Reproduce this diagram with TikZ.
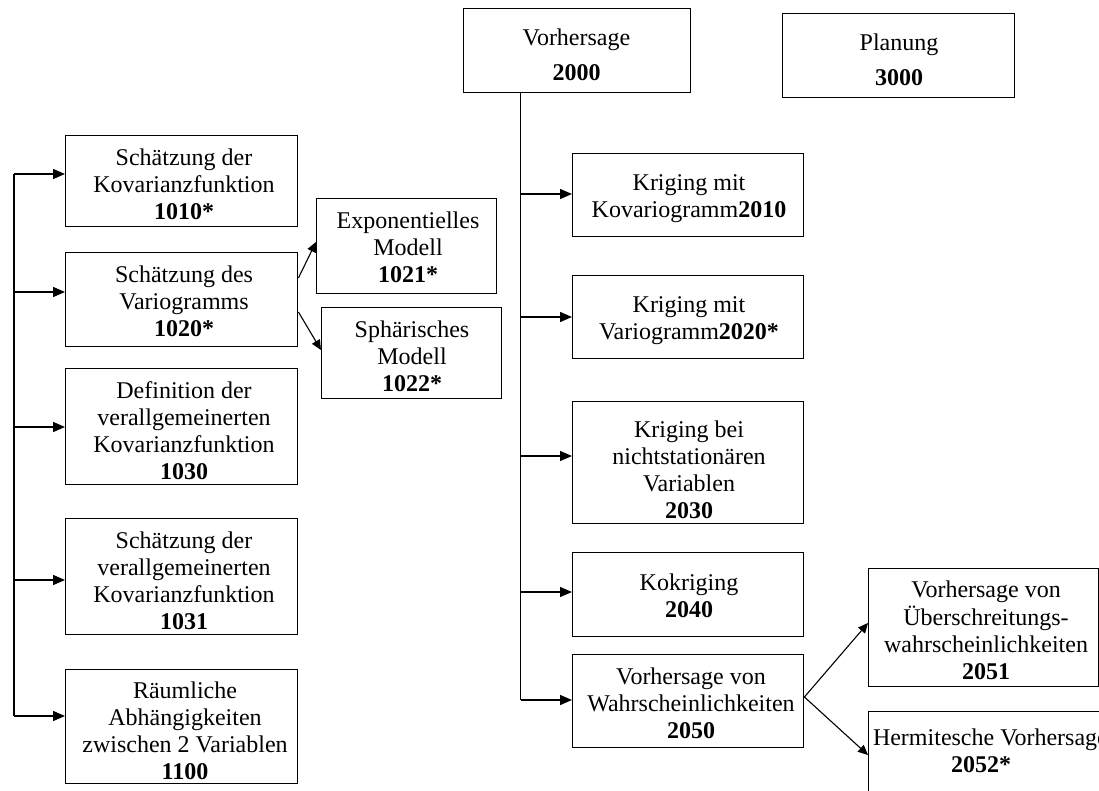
\documentclass[tikz,border=0pt]{standalone}
\usepackage{fontspec}
\setmainfont{Liberation Serif}
\usetikzlibrary{arrows.meta}
\begin{document}
\begin{tikzpicture}[x=1pt,y=-1pt,
  box/.style={draw, line width=1.4pt, inner sep=0pt, anchor=north west},
  txt/.style={align=center, inner sep=0pt, anchor=north, font=\fontsize{24}{27}\selectfont},
  line/.style={line width=1.4pt},
  arr/.style={line width=1.4pt, -{Triangle[length=12pt,width=10pt]}},
  darr/.style={line width=1.1pt, -{Triangle[length=10pt,width=9pt]}}]
\useasboundingbox (0,0) rectangle (1099,791);
\clip (0,0) rectangle (1099,791);
\fill[white] (0,0) rectangle (1099,791);
% boxes
\node[box, minimum width=232pt, minimum height=91pt]  (b1010) at (65,135) {};
\node[box, minimum width=232pt, minimum height=94pt]  (b1020) at (65,252) {};
\node[box, minimum width=232pt, minimum height=116pt] (b1030) at (65,368) {};
\node[box, minimum width=232pt, minimum height=116pt] (b1031) at (65,518) {};
\node[box, minimum width=232pt, minimum height=114pt] (b1100) at (65,669) {};
\node[box, minimum width=180pt, minimum height=95pt]  (b1021) at (316,198) {};
\node[box, minimum width=180pt, minimum height=91pt]  (b1022) at (321,307) {};
\node[box, minimum width=227pt, minimum height=84pt]  (b2000) at (463,8) {};
\node[box, minimum width=232pt, minimum height=84pt]  (b3000) at (782,13) {};
\node[box, minimum width=231pt, minimum height=83pt]  (b2010) at (572,153) {};
\node[box, minimum width=231pt, minimum height=83pt]  (b2020) at (572,275) {};
\node[box, minimum width=231pt, minimum height=122pt] (b2030) at (572,401) {};
\node[box, minimum width=231pt, minimum height=84pt]  (b2040) at (572,552) {};
\node[box, minimum width=231pt, minimum height=93pt]  (b2050) at (572,654) {};
\node[box, minimum width=230pt, minimum height=118pt] (b2051) at (868,568) {};
\node[box, minimum width=240pt, minimum height=100pt] (b2052) at (868,711) {};
% texts (anchor = top of first-line strut = baseline - 18.9)
\node[txt] (t1010) at (184,146.1) {\strut Schätzung der\\Kovarianzfunktion\\\textbf{1010*}};
\node[txt] (t1020) at (184,263.1) {\strut Schätzung des\\Variogramms\\\textbf{1020*}};
\node[txt] (t1030) at (184,379.1) {\strut Definition der\\verallgemeinerten\\Kovarianzfunktion\\\textbf{1030}};
\node[txt] (t1031) at (184,529.1) {\strut Schätzung der\\verallgemeinerten\\Kovarianzfunktion\\\textbf{1031}};
\node[txt] (t1100) at (185,679.1) {\strut Räumliche\\Abhängigkeiten\\zwischen 2 Variablen\\\textbf{1100}};
\node[txt] (t1021) at (408,209.1) {\strut Exponentielles\\Modell\\\textbf{1021*}};
\node[txt] (t1022) at (412,318.1) {\strut Sphärisches\\Modell\\\textbf{1022*}};
\node[txt] (t2000) at (576.5,26.1) {\strut Vorhersage\\[8pt]\textbf{2000}};
\node[txt] (t3000) at (899,31.1) {\strut Planung\\[8pt]\textbf{3000}};
\node[txt] (t2010) at (689,171.1) {\strut Kriging mit\\Kovariogramm\textbf{2010}};
\node[txt] (t2020) at (689,293.1) {\strut Kriging mit\\Variogramm\textbf{2020*}};
\node[txt] (t2030) at (689,418.1) {\strut Kriging bei\\nichtstationären\\Variablen\\\textbf{2030}};
\node[txt] (t2040) at (689,571.1) {\strut Kokriging\\\textbf{2040}};
\node[txt] (t2050) at (691,665.1) {\strut Vorhersage von\\Wahrscheinlichkeiten\\\textbf{2050}};
\node[txt] (t2051) at (986,578.1) {\strut Vorhersage von\\Überschreitungs-\\wahrscheinlichkeiten\\\textbf{2051}};
\node[txt] (t2052) at (981,726.1) {\strut\makebox[216pt][l]{Hermitesche Vorhersage}\\\textbf{2052*}};
% left trunk
\coordinate (L1) at (14,174);
\coordinate (L2) at (14,292);
\coordinate (L3) at (14,427);
\coordinate (L4) at (14,580);
\coordinate (L5) at (14,716);
\draw[line] (L1) -- (L5);
\draw[arr] (L1) -- (L1 -| b1010.west);
\draw[arr] (L2) -- (L2 -| b1020.west);
\draw[arr] (L3) -- (L3 -| b1030.west);
\draw[arr] (L4) -- (L4 -| b1031.west);
\draw[arr] (L5) -- (L5 -| b1100.west);
% right trunk
\coordinate (R1) at (520.5,194);
\coordinate (R2) at (520.5,317);
\coordinate (R3) at (520.5,456);
\coordinate (R4) at (520.5,592);
\coordinate (R5) at (520.5,700);
\draw[line] (b2000.south -| R1) -- (R5);
\draw[arr] (R1) -- (R1 -| b2010.west);
\draw[arr] (R2) -- (R2 -| b2020.west);
\draw[arr] (R3) -- (R3 -| b2030.west);
\draw[arr] (R4) -- (R4 -| b2040.west);
\draw[arr] (R5) -- (R5 -| b2050.west);
% diagonal arrows
\draw[darr] (b1020.east |- 0,278) -- (b1021.west |- 0,242);
\draw[darr] (b1020.east |- 0,312) -- (b1022.west |- 0,350);
\draw[darr] (b2050.east |- 0,697) -- (b2051.west |- 0,623);
\draw[darr] (b2050.east |- 0,697) -- (b2052.west |- 0,755);
\end{tikzpicture}
\end{document}
